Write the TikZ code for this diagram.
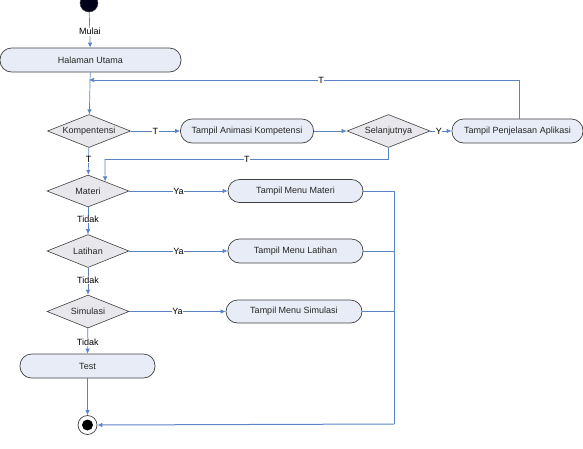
\documentclass[tikz,border=0pt]{standalone}
\usepackage{fontspec}
\setmainfont{Liberation Sans}
\usetikzlibrary{shapes.geometric,arrows.meta,calc}
\definecolor{lineblue}{HTML}{5B84C4}
\definecolor{boxfill}{HTML}{E8ECF6}
\definecolor{dfill}{HTML}{E8E8EC}
\definecolor{edge}{HTML}{404040}
\tikzset{
  act/.style={draw=edge, line width=0.7pt, fill=boxfill, rounded corners=11.5pt, minimum height=24pt, inner sep=0pt, font=\fontsize{9}{10}\selectfont, text=black!85},
  dec/.style={draw=edge, line width=0.6pt, fill=dfill, diamond, aspect=2.5, inner sep=0pt, minimum width=83pt, minimum height=33pt, font=\fontsize{9}{10}\selectfont, text=black!85},
  flow/.style={draw=lineblue, line width=0.7pt, -{Latex[length=5pt,width=4.5pt]}},
  line/.style={draw=lineblue, line width=0.7pt},
  lbl/.style={fill=white, inner sep=0.5pt, font=\fontsize{9}{10}\selectfont, text=black}
}
\begin{document}
\begin{tikzpicture}[x=1pt,y=-1pt]
\useasboundingbox (0,0) rectangle (583,448);
% nodes
\node[circle, fill=black!90!blue, draw=edge, minimum size=18pt, inner sep=0pt] (start) at (89,3) {};
\node[act, minimum width=181pt] (hal) at (90.5,60) {Halaman Utama};
\node[dec] (komp) at (89,131) {Kompentensi};
\node[act, minimum width=133pt] (anim) at (247,131) {Tampil Animasi Kompetensi};
\node[dec] (sel) at (388.5,131) {Selanjutnya};
\node[act, minimum width=131pt] (penj) at (517.5,131) {Tampil Penjelasan Aplikasi};
\node[dec, minimum width=82pt, minimum height=32pt] (mat) at (88,191) {Materi};
\node[act, minimum width=135pt, minimum height=23pt] (mmat) at (295.5,191) {Tampil Menu Materi};
\node[dec, minimum width=82pt] (lat) at (88,251) {Latihan};
\node[act, minimum width=135pt] (mlat) at (295.5,251) {Tampil Menu Latihan};
\node[dec, minimum width=82pt] (sim) at (88,311.5) {Simulasi};
\node[act, minimum width=136pt, minimum height=23pt] (msim) at (294,311.5) {Tampil Menu Simulasi};
\node[act, minimum width=135pt] (test) at (87.5,366) {Test};
\node[circle, draw=edge, line width=0.7pt, fill=white, minimum size=19pt, inner sep=0pt] (end) at (87.5,425) {};
\node[circle, fill=black, minimum size=11pt, inner sep=0pt] (endc) at (end.center) {};

\coordinate (fb2) at (89,80);
\coordinate (s1) at (388.5,159);
\coordinate (s2) at (105,159);
\coordinate (mtop) at ($(mat.north)!0.415!(mat.east)$);
\coordinate (r1) at (394,191);
\coordinate (r2) at (394,251);
\coordinate (r3) at (394,311.5);
\coordinate (r4) at (394,424);

% connectors
\draw[flow] (start) -- node[lbl, pos=0.55] {Mulai} (hal);
\draw[flow] (hal) -- (komp);
\draw[flow] ([xshift=1.5pt]penj.north) |- node[lbl, pos=0.73] {T} (fb2);
\draw[flow] (komp) -- node[lbl, pos=0.5] {T} (anim);
\draw[flow] (anim) -- (sel);
\draw[flow] (sel) -- node[lbl, pos=0.4] {Y} (penj);
\draw[line] (sel.south) -- (s1) -- node[lbl, pos=0.5] {T} (s2);
\draw[flow] (s2) -- (mtop);
\draw[flow] (komp) -- node[lbl, pos=0.45] {T} (mat);
\draw[flow] (mat) -- node[lbl, pos=0.5] {Ya} (mmat);
\draw[flow] (mat) -- node[lbl, pos=0.45] {Tidak} (lat);
\draw[flow] (lat) -- node[lbl, pos=0.5] {Ya} (mlat);
\draw[flow] (lat) -- node[lbl, pos=0.45] {Tidak} (sim);
\draw[flow] (sim) -- node[lbl, pos=0.5] {Ya} (msim);
\draw[flow] (sim) -- node[lbl, pos=0.55] {Tidak} (test);
\draw[flow] (test) -- (end);
\draw[line] (mmat.east) -- (r1) -- (r4);
\draw[line] (mlat.east) -- (r2);
\draw[line] (msim.east) -- (r3);
\draw[flow, line width=1pt] (r4) -- (end.east);
\end{tikzpicture}
\end{document}
